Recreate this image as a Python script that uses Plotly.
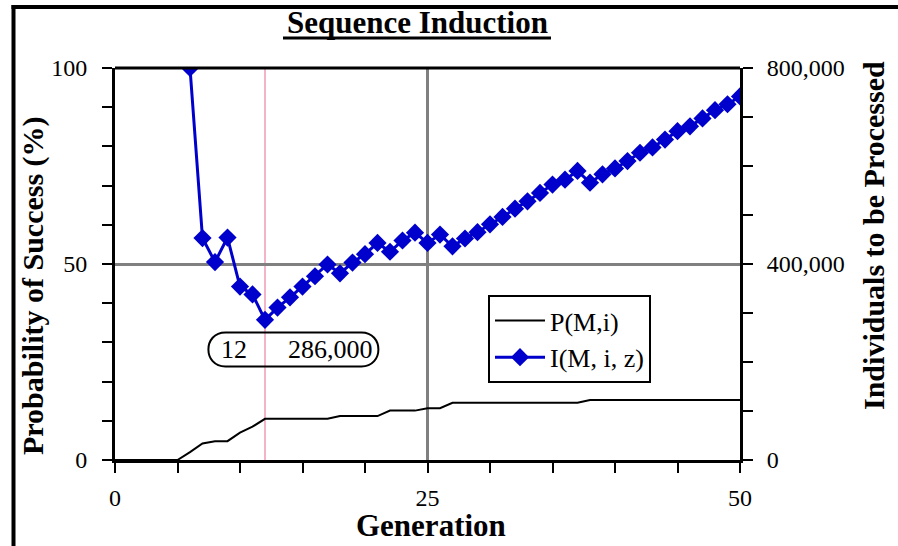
import plotly.graph_objects as go

# ---- data ----
gen_p = list(range(0, 51))
p_success = [0, 0, 0, 0, 0, 0, 2.0, 4.2, 4.8, 4.8, 7.0, 8.5, 10.5,
             10.5, 10.5, 10.5, 10.5, 10.5, 11.2, 11.2, 11.2, 11.2,
             12.6, 12.6, 12.6, 13.2, 13.2,
             14.6, 14.6, 14.6, 14.6, 14.6, 14.6, 14.6, 14.6, 14.6, 14.6, 14.6,
             15.3, 15.3, 15.3, 15.3, 15.3, 15.3, 15.3, 15.3, 15.3, 15.3, 15.3, 15.3, 15.3]

gen_i = list(range(6, 51))
individuals = [800000, 453000, 404000, 454000, 354000, 338000, 286000,
               311000, 332000, 354000, 375000, 399000, 381000, 403000,
               420000, 443000, 425000, 448000, 464000, 443000, 460000,
               436000, 452000, 465000, 481000, 496000, 513000, 528000,
               545000, 562000, 572000, 590000, 566000, 583000, 595000,
               610000, 627000, 638000, 654000, 671000, 681000, 697000,
               714000, 726000, 742000]

x_ticks = [0, 25, 50]
y_ticks = [0, 50, 100]
y2_ticks = [0, 400000, 800000]

i_min = min(individuals)
gen_min = gen_i[individuals.index(i_min)]

SERIF = "Liberation Serif, Times New Roman, serif"

# layout geometry (pixels)
W, H = 898, 546
ML, MR, MT, MB = 115, 158, 68, 86
PW, PH = W - ML - MR, H - MT - MB


def px(x):
    return (x - ML) / PW


def py(y):
    return (H - MB - y) / PH


fig = go.Figure()
fig.add_trace(go.Scatter(
    x=gen_p, y=p_success, name="P(M,i)", mode="lines",
    line=dict(color="black", width=2), yaxis="y"))
fig.add_trace(go.Scatter(
    x=gen_i, y=individuals, name="I(M, i, z)", mode="lines+markers",
    line=dict(color="#0000CC", width=3),
    marker=dict(symbol="diamond", size=14, color="#0000CC"), yaxis="y2"))

axis_common = dict(
    showline=True, linecolor="black", linewidth=3, mirror=False,
    ticks="outside", ticklen=10, tickwidth=2, tickcolor="black",
    tickfont=dict(family=SERIF, size=24, color="black"),
    zeroline=False, automargin=False,
)

fig.update_layout(
    width=W, height=H,
    margin=dict(l=ML, r=MR, t=MT, b=MB, autoexpand=False),
    paper_bgcolor="white", plot_bgcolor="white",
    showlegend=True,
    legend=dict(
        x=px(488), y=py(295), xanchor="left", yanchor="top",
        bgcolor="white", bordercolor="black", borderwidth=2,
        font=dict(family=SERIF, size=26, color="black"),
        itemwidth=50, tracegroupgap=0, entrywidth=175,
    ),
    xaxis=dict(
        range=[0, 50], tickvals=x_ticks,
        showgrid=True, gridcolor="#808080", gridwidth=3,
        minor=dict(dtick=5, ticks="outside", ticklen=10, tickwidth=2, tickcolor="black", showgrid=False),
        ticklabelstandoff=4,
        **axis_common,
    ),
    yaxis=dict(
        range=[0, 100], tickvals=y_ticks,
        showgrid=True, gridcolor="#808080", gridwidth=3,
        minor=dict(dtick=10, ticks="outside", ticklen=10, tickwidth=2, tickcolor="black", showgrid=False),
        ticklabelstandoff=10,
        **axis_common,
    ),
    yaxis2=dict(
        range=[0, 800000], tickvals=y2_ticks, tickformat=",",
        overlaying="y", side="right", showgrid=False,
        minor=dict(dtick=100000, ticks="outside", ticklen=10, tickwidth=2, tickcolor="black"),
        ticklabelstandoff=9,
        **axis_common,
    ),
)

title_font = dict(family=SERIF, size=30, color="black")
# chart title and axis titles
fig.add_annotation(xref="paper", yref="paper", x=px(417), y=py(22), text="<b>Sequence Induction</b>",
                   showarrow=False, xanchor="center", yanchor="middle",
                   font=dict(family=SERIF, size=31, color="black"))
fig.add_annotation(xref="paper", yref="paper", x=px(431), y=py(525), text="<b>Generation</b>",
                   showarrow=False, xanchor="center", yanchor="middle",
                   font=dict(family=SERIF, size=31, color="black"))
fig.add_annotation(xref="paper", yref="paper", x=px(33), y=py(286), text="<b>Probability of Success (%)</b>",
                   showarrow=False, xanchor="center", yanchor="middle", textangle=-90, font=title_font)
fig.add_annotation(xref="paper", yref="paper", x=px(873), y=py(236), text="<b>Individuals to be Processed</b>",
                   showarrow=False, xanchor="center", yanchor="middle", textangle=-90, font=title_font)

# plot frame (top edge)
fig.add_shape(type="line", xref="paper", yref="paper", x0=0, x1=1, y0=1, y1=1,
              line=dict(color="black", width=3))

# pink marker line at the minimum generation
fig.add_shape(type="line", xref="x", yref="y", x0=gen_min, x1=gen_min, y0=0, y1=100,
              line=dict(color="#F4B4C8", width=2), layer="below")

# pill-shaped callout around the minimum label
L, R, r = -39.6, 96.4, 17.0
k = 1.333 * r
pill = (f"M {L},{-r} L {R},{-r} C {R + k},{-r} {R + k},{r} {R},{r} "
        f"L {L},{r} C {L - k},{r} {L - k},{-r} {L},{-r} Z")
fig.add_shape(type="path", xref="x", yref="y", xsizemode="pixel", ysizemode="pixel",
              xanchor=gen_min, yanchor=28.2, path=pill,
              line=dict(color="black", width=2), fillcolor="rgba(0,0,0,0)")

fig.add_annotation(x=gen_min, y=28.2, xref="x", yref="y", text=f"{gen_min}",
                   showarrow=False, xshift=-31, font=dict(family=SERIF, size=26, color="black"))
fig.add_annotation(x=gen_min, y=28.2, xref="x", yref="y", text=f"{i_min:,}",
                   showarrow=False, xshift=65, font=dict(family=SERIF, size=26, color="black"))

# title underline
fig.add_shape(type="line", xref="paper", yref="paper",
              x0=px(283), x1=px(551), y0=py(38), y1=py(38),
              line=dict(color="black", width=3))

# outer frame (left and top edges)
fig.add_shape(type="line", xref="paper", yref="paper",
              x0=px(13.5), x1=px(13.5), y0=py(5), y1=py(560),
              line=dict(color="black", width=4))
fig.add_shape(type="line", xref="paper", yref="paper",
              x0=px(11.5), x1=px(910), y0=py(7), y1=py(7),
              line=dict(color="black", width=4))

fig.write_html(
    "out.html",
    config={"displayModeBar": False},
    post_script="document.body.style.margin='0';document.body.style.overflow='hidden';",
)
